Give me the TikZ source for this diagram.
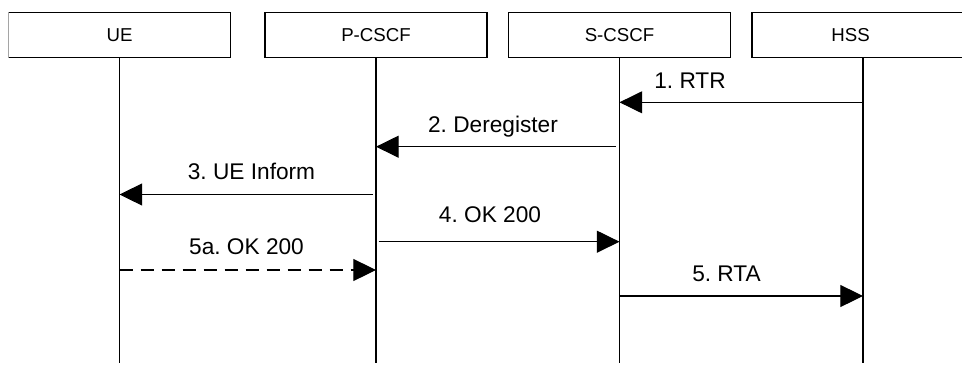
\documentclass[tikz,border=0pt]{standalone}
\usepackage{fontspec}
\setmainfont{Liberation Sans}
\usetikzlibrary{arrows.meta}
\frenchspacing

\begin{document}
\begin{tikzpicture}[x=0.75pt, y=-0.75pt, line width=0.8pt,
    actor/.style={draw, minimum width=166.5pt, minimum height=33.75pt, inner sep=0pt,
      font=\fontsize{14}{16}\selectfont},
    msg/.style={-{Triangle[length=17pt,width=16.5pt]}},
    lbl/.style={font=\fontsize{17}{20}\selectfont, inner sep=0pt, anchor=base}]
  \useasboundingbox (0,0) rectangle (962,365);
  \clip (8.6,0) rectangle (962,365);

  % entities
  \node[actor] (ue) at (119.5,34.8) {UE};
  \node[actor] (pcscf) at (376,34.8) {P-CSCF};
  \node[actor] (scscf) at (619.5,34.8) {S-CSCF};
  \node[actor] (hss) at (863,34.8) {};
  \node[font=\fontsize{14}{16}\selectfont, inner sep=0pt] (hss name) at (850.5,34.8) {HSS};

  % lifelines
  \coordinate (bottom) at (0,363);
  \foreach \e in {ue,pcscf,scscf,hss}
    \draw (\e.south) -- (\e.south |- bottom);

  % message levels
  \coordinate (m1) at (0,102.3);
  \coordinate (m2) at (0,146.7);
  \coordinate (m3) at (0,194.5);
  \coordinate (m4) at (0,241.7);
  \coordinate (m5a) at (0,270);
  \coordinate (m5) at (0,296);

  \draw[msg] (hss |- m1) -- (scscf |- m1);
  \node[lbl] (rtr) at (690,88.3) {1. RTR};
  \draw[msg, shorten <=3pt] (scscf |- m2) -- (pcscf |- m2);
  \node[lbl] (dereg) at (493,132.3) {2. Deregister};
  \draw[msg, shorten <=2.2pt] (pcscf |- m3) -- (ue |- m3);
  \node[lbl] (inform) at (251.5,179.7) {3. UE Inform};
  \draw[msg, shorten <=2pt] (pcscf |- m4) -- (scscf |- m4);
  \node[lbl] (ok) at (490,222) {4. OK 200};
  \draw[msg, dash pattern=on 9.75pt off 6pt] (ue |- m5a) -- (pcscf |- m5a);
  \node[lbl] (ok ue) at (246.5,254.8) {5a. OK 200};
  \draw[msg] (scscf |- m5) -- (hss |- m5);
  \node[lbl] (rta) at (726.5,281.7) {5. RTA};
\end{tikzpicture}
\end{document}
